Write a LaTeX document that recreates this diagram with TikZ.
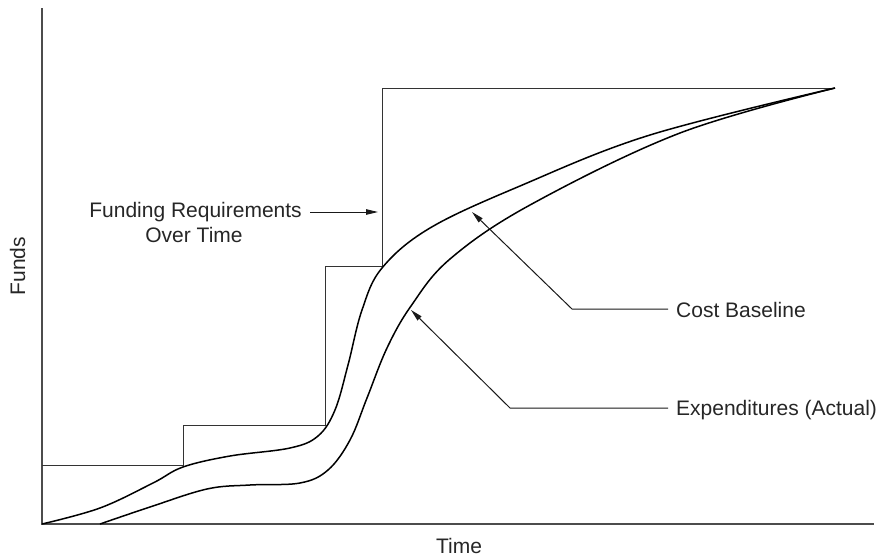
\documentclass[tikz,border=0pt]{standalone}
\usepackage{fontspec}
\setmainfont{Liberation Sans}
\usetikzlibrary{arrows.meta}
\begin{document}
\begin{tikzpicture}[x=1pt,y=-1pt,
  axisline/.style={line width=1.4pt,draw=black!70},
  stepline/.style={line width=0.9pt,draw=black!80},
  curveline/.style={line width=1.5pt,draw=black,line join=round},
  leader/.style={line width=1pt,draw=black!90,-{Triangle[length=12pt,width=5.5pt]}},
  lbl/.style={font=\fontsize{21}{23}\selectfont,text=black!85,inner sep=0pt},
]
\useasboundingbox (0,0) rectangle (878,558);

% axes
\coordinate (top) at (42,8);
\coordinate (origin) at (42,524);
\coordinate (xend) at (874,524);
\draw[axisline] (top) -- (origin) -- (xend);

% funding requirements staircase
\coordinate (peak) at (835,88);
\draw[stepline] (42,465) -| (183,425) -| (325,266) -| (382,88) -- (peak);

% cost baseline
\draw[curveline] plot[smooth,tension=0.6] coordinates {
  (42,524) (100,508) (153,483) (183,467) (230,456) (290,448) (318,436)
  (335,410) (348,365) (362,310) (382,268) (430,228) (520,186) (650,135)
  (835,88)};

% expenditures (actual)
\draw[curveline] plot[smooth,tension=0.6] coordinates {
  (100,524) (150,507) (207,489) (250,485) (300,483) (328,470) (350,440)
  (367,398) (387,348) (411,306) (450,259) (530,205) (680,133) (835,88)};

% labels
\node[lbl,anchor=base,rotate=90] (funds) at (25,266) {Funds};
\node[lbl,anchor=base] (time) at (459,553) {Time};
\node[lbl,anchor=base east,inner xsep=8pt] (fundA) at (310,217) {Funding Requirements};
\node[lbl,anchor=base] (fundB) at (194,242) {Over Time};
\node[lbl,anchor=base west,inner xsep=8pt] (cost) at (668,317) {Cost Baseline};
\node[lbl,anchor=base west,inner xsep=8pt] (exp) at (668,415) {Expenditures (Actual)};

% leader arrows
\coordinate (fundtip) at (378,212);
\coordinate (costbend) at (572,309);
\coordinate (costtip) at (472,212);
\coordinate (expbend) at (510,408);
\coordinate (exptip) at (411,310);
\draw[leader] (fundA.east |- fundtip) -- (fundtip);
\draw[leader] (cost.west |- costbend) -- (costbend) -- (costtip);
\draw[leader] (exp.west |- expbend) -- (expbend) -- (exptip);
\end{tikzpicture}
\end{document}
